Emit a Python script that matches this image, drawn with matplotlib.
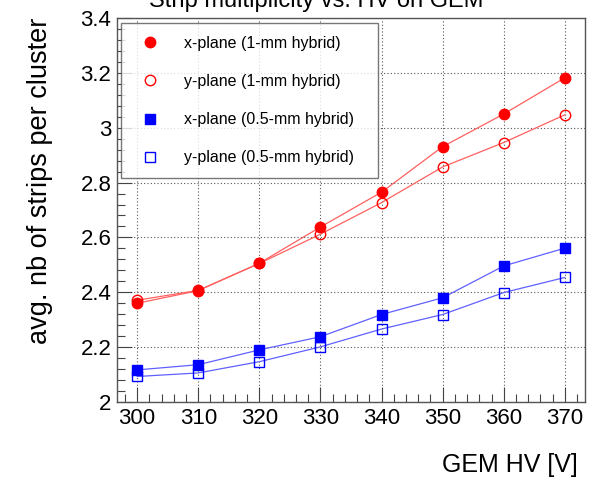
import matplotlib
matplotlib.use("Agg")
import matplotlib.pyplot as plt
from matplotlib.ticker import MultipleLocator

plt.rcParams['font.family'] = ['Liberation Sans', 'DejaVu Sans']

hv = [300, 310, 320, 330, 340, 350, 360, 370]
x_1mm = [2.360, 2.406, 2.506, 2.638, 2.765, 2.931, 3.050, 3.182]
y_1mm = [2.371, 2.407, 2.505, 2.612, 2.727, 2.857, 2.946, 3.047]
x_05mm = [2.117, 2.136, 2.190, 2.238, 2.319, 2.380, 2.496, 2.561]
y_05mm = [2.093, 2.106, 2.147, 2.201, 2.266, 2.319, 2.399, 2.454]
labels = ["x-plane (1-mm hybrid)", "y-plane (1-mm hybrid)",
          "x-plane (0.5-mm hybrid)", "y-plane (0.5-mm hybrid)"]
title = "Strip multiplicity vs. HV on GEM"
xlabel = "GEM HV [V]"
ylabel = "avg. nb of strips per cluster"

W, H = 595, 478
fig = plt.figure(figsize=(W / 100, H / 100), dpi=100)
ax = fig.add_axes([117 / W, 1 - 402 / H, (585 - 117) / W, (402 - 18) / H])

red = '#ff0000'
blue = '#0000ff'
lred = '#ff6060'
lblue = '#6060ff'
ax.plot(hv, x_1mm, '-', color=lred, lw=0.9, zorder=2)
ax.plot(hv, y_1mm, '-', color=lred, lw=0.9, zorder=2)
ax.plot(hv, x_05mm, '-', color=lblue, lw=0.9, zorder=2)
ax.plot(hv, y_05mm, '-', color=lblue, lw=0.9, zorder=2)
h1, = ax.plot(hv, x_1mm, 'o', color=red, ms=7.5, mec=red, lw=0, zorder=3, label=labels[0])
h2, = ax.plot(hv, y_1mm, 'o', mfc='none', mec=red, ms=7.5, mew=1.0, lw=0, zorder=3, label=labels[1])
h3, = ax.plot(hv, x_05mm, 's', color=blue, ms=7, mec=blue, lw=0, zorder=3, label=labels[2])
h4, = ax.plot(hv, y_05mm, 's', mfc='none', mec=blue, ms=7, mew=1.0, lw=0, zorder=3, label=labels[3])

ax.set_xlim(296.7, 373.3)
ax.set_ylim(2.0, 3.4)
ax.xaxis.set_major_locator(MultipleLocator(10))
ax.xaxis.set_minor_locator(MultipleLocator(2))
ax.yaxis.set_major_locator(MultipleLocator(0.2))
ax.yaxis.set_minor_locator(MultipleLocator(0.04))
ax.set_yticks([2.0, 2.2, 2.4, 2.6, 2.8, 3.0, 3.2, 3.4])
ax.set_yticklabels(['2', '2.2', '2.4', '2.6', '2.8', '3', '3.2', '3.4'])
ax.tick_params(which='major', direction='in', length=11, width=0.8, labelsize=16, pad=4, color='#444444')
ax.tick_params(which='minor', direction='in', length=5.5, width=0.8, color='#444444')
ax.grid(True, which='major', linestyle=(0, (1, 2)), color='#555555', lw=0.8)
for s in ax.spines.values():
    s.set_color('#555555')
    s.set_linewidth(1.0)

leg = ax.legend(handles=[h1, h2, h3, h4], loc='upper left',
                bbox_to_anchor=(4 / 468, (402 - 176) / 384, (378 - 121) / 468, (176 - 23) / 384),
                mode='expand', fontsize=11.5, frameon=True, fancybox=False,
                labelspacing=1.45, handletextpad=1.12, borderpad=0.8, handlelength=2.0,
                borderaxespad=0)
leg.get_frame().set_edgecolor('#555555')
leg.get_frame().set_linewidth(1.0)

fig.text(578 / W, 1 - 465 / H, xlabel, ha='right', va='center', fontsize=18)
fig.text(40 / W, 1 - 181 / H, ylabel, ha='center', va='center', rotation=90, fontsize=19.5)
fig.text(316 / W, 1 - 1 / H, title, ha='center', va='center', fontsize=17)

fig.savefig('out.png', dpi=100)
